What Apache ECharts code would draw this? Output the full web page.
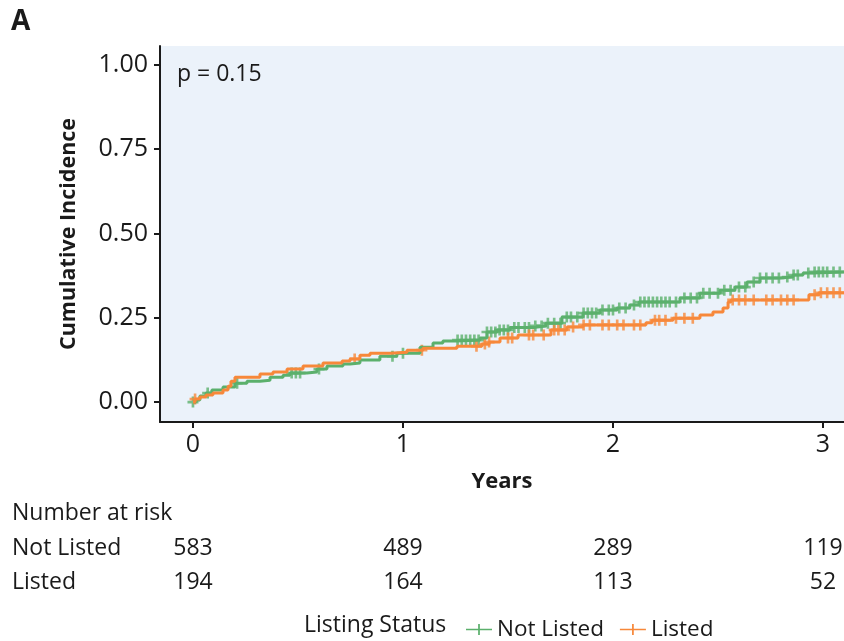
<!DOCTYPE html>
<html>
<head>
<meta charset="utf-8">
<script src="https://cdn.jsdelivr.net/npm/echarts@6/dist/echarts.min.js"></script>
<style>
  html, body { margin: 0; padding: 0; background: #fff; }
  #chart { width: 844px; height: 641px; }
</style>
</head>
<body>
<div id="chart"></div>
<script>
// Cumulative incidence by listing status (step curves)
const notListedTime = [0, 0.014, 0.033, 0.062, 0.09, 0.143, 0.2, 0.257, 0.319, 0.367, 0.429, 0.462, 0.543, 0.59, 0.638, 0.714, 0.748, 0.795, 0.89, 0.971, 1.081, 1.143, 1.19, 1.257, 1.367, 1.4, 1.448, 1.51, 1.62, 1.68, 1.757, 1.857, 1.938, 2.019, 2.08, 2.124, 2.319, 2.414, 2.51, 2.581, 2.638, 2.7, 2.795, 2.857, 2.905, 2.95, 3.1];
const notListedCI   = [0, 0.006, 0.018, 0.027, 0.036, 0.045, 0.056, 0.062, 0.065, 0.074, 0.080, 0.086, 0.089, 0.098, 0.107, 0.113, 0.116, 0.125, 0.136, 0.145, 0.163, 0.175, 0.181, 0.184, 0.19, 0.208, 0.214, 0.221, 0.226, 0.234, 0.252, 0.264, 0.273, 0.279, 0.288, 0.297, 0.309, 0.323, 0.332, 0.341, 0.356, 0.368, 0.371, 0.377, 0.383, 0.386, 0.386];

const listedTime = [0, 0.01, 0.033, 0.062, 0.095, 0.143, 0.167, 0.181, 0.2, 0.319, 0.381, 0.448, 0.524, 0.619, 0.71, 0.748, 0.795, 0.843, 0.938, 1.019, 1.095, 1.257, 1.376, 1.41, 1.462, 1.548, 1.705, 1.781, 1.857, 2.157, 2.186, 2.286, 2.414, 2.476, 2.524, 2.548, 2.562, 2.9, 2.933, 2.98, 3.1];
const listedCI   = [0, 0.009, 0.015, 0.021, 0.027, 0.036, 0.047, 0.062, 0.074, 0.083, 0.089, 0.098, 0.107, 0.116, 0.122, 0.128, 0.139, 0.145, 0.148, 0.154, 0.160, 0.166, 0.172, 0.178, 0.190, 0.199, 0.214, 0.223, 0.229, 0.235, 0.243, 0.249, 0.258, 0.267, 0.279, 0.297, 0.303, 0.303, 0.318, 0.324, 0.324];

// censoring times (+ marks)
const notListedCensor = [0.0, 0.07, 0.21, 0.47, 0.49, 0.51, 0.6, 0.95, 1.0, 1.26, 1.28, 1.3, 1.32, 1.34, 1.36, 1.4, 1.42, 1.44, 1.46, 1.48, 1.5, 1.53, 1.55, 1.58, 1.6, 1.63, 1.66, 1.69, 1.72, 1.75, 1.78, 1.8, 1.83, 1.86, 1.88, 1.9, 1.92, 1.95, 1.98, 2.0, 2.03, 2.06, 2.1, 2.13, 2.15, 2.17, 2.19, 2.21, 2.23, 2.25, 2.27, 2.3, 2.34, 2.37, 2.4, 2.43, 2.46, 2.5, 2.53, 2.56, 2.6, 2.63, 2.67, 2.7, 2.73, 2.76, 2.79, 2.83, 2.86, 2.88, 2.93, 2.96, 2.98, 3.0, 3.02, 3.05, 3.08];
const listedCensor = [0.01, 0.77, 1.09, 1.35, 1.39, 1.41, 1.5, 1.52, 1.6, 1.62, 1.67, 1.72, 1.74, 1.77, 1.81, 1.86, 1.89, 1.95, 1.98, 2.02, 2.05, 2.1, 2.13, 2.2, 2.22, 2.25, 2.3, 2.34, 2.38, 2.57, 2.6, 2.63, 2.67, 2.73, 2.76, 2.8, 2.83, 2.86, 2.96, 2.99, 3.02, 3.05, 3.08];

// number at risk table
const riskTimes = [0, 1, 2, 3];
const notListedRisk = [583, 489, 289, 119];
const listedRisk = [194, 164, 113, 52];

const xTicks = [0, 1, 2, 3];
const yTicks = [0, 0.25, 0.5, 0.75, 1];

const GREEN = '#5BB06C';
const ORANGE = '#F7883A';
const INK = '#1a1a1a';
const FONT = '"Open Sans", "Noto Sans", sans-serif';
const PLUS = 'path://M3.8,0 H6.2 V3.8 H10 V6.2 H6.2 V10 H3.8 V6.2 H0 V3.8 H3.8 Z';
const LEGEND_ICON = 'path://M0,4.2 H24 V5.8 H0 Z M11.2,0 H12.8 V10 H11.2 Z';

// value of a step curve at time t (for placing censor marks on the curve)
function stepAt(times, vals, t) {
  let v = vals[0];
  for (let i = 0; i < times.length; i++) {
    if (times[i] <= t) v = vals[i]; else break;
  }
  return v;
}

const pairs = (ts, vs) => ts.map((t, i) => [t, vs[i]]);
const censorPts = (cs, ts, vs) => cs.map((t) => [t, stepAt(ts, vs, t)]);

const X_MIN = -0.157, X_MAX = 3.1;

const txt = (text, x, y, size, weight) => ({
  type: 'text',
  style: { text, x, y, font: `${weight || 'normal'} ${size}px ${FONT}`, fill: INK, verticalAlign: 'middle' },
});

const riskLabel = {
  show: true, position: 'inside', fontSize: 23, color: INK, opacity: 1,
  formatter: (p) => String(p.value[2]),
};

const chart = echarts.init(document.getElementById('chart'));
chart.setOption({
  animation: false,
  textStyle: { fontFamily: FONT },
  grid: [
    { left: 160, right: 0, top: 46, height: 376, show: true, backgroundColor: '#EBF2FA', borderWidth: 0 },
    { left: 160, right: 0, top: 531, height: 68 },
  ],
  xAxis: [
    {
      gridIndex: 0, type: 'value', min: X_MIN, max: X_MAX,
      name: 'Years', nameLocation: 'middle', nameGap: 49,
      nameTextStyle: { fontFamily: FONT, fontSize: 22, fontWeight: 'bold', color: INK },
      axisLine: { show: true, onZero: false, lineStyle: { color: INK, width: 2 } },
      axisTick: { show: true, length: 6, lineStyle: { color: INK, width: 2 }, customValues: xTicks },
      axisLabel: { color: INK, fontSize: 25, margin: 10, customValues: xTicks, formatter: (v) => String(v) },
      splitLine: { show: false },
    },
    {
      gridIndex: 1, type: 'value', min: X_MIN, max: X_MAX, show: false,
    },
  ],
  yAxis: [
    {
      gridIndex: 0, type: 'value', min: -0.059, max: 1.056,
      name: 'Cumulative Incidence', nameLocation: 'middle', nameGap: 80,
      nameTextStyle: { fontFamily: FONT, fontSize: 21.5, fontWeight: 'bold', color: INK },
      axisLine: { show: true, onZero: false, lineStyle: { color: INK, width: 2 } },
      axisTick: { show: true, length: 6, lineStyle: { color: INK, width: 2 }, customValues: yTicks },
      axisLabel: { color: INK, fontSize: 25, margin: 12, customValues: yTicks, formatter: (v) => v.toFixed(2) },
      splitLine: { show: false },
    },
    {
      gridIndex: 1, type: 'category', inverse: true, data: ['Not Listed', 'Listed'],
      axisLine: { show: false }, axisTick: { show: false }, splitLine: { show: false },
      axisLabel: { align: 'left', margin: 148, color: INK, fontSize: 23 },
    },
  ],
  legend: {
    left: 461, top: 613, itemWidth: 26, itemGap: 16, itemHeight: 11,
    textStyle: { fontFamily: FONT, fontSize: 22.5, color: INK },
    data: [
      { name: 'Not Listed', icon: LEGEND_ICON, itemStyle: { color: GREEN } },
      { name: 'Listed', icon: LEGEND_ICON, itemStyle: { color: ORANGE } },
    ],
  },
  graphic: [
    txt('A', 11, 22, 28, 'bold'),
    txt('p = 0.15', 177, 74, 23),
    txt('Number at risk', 12, 513, 23),
    txt('Listing Status', 304, 625, 23),
  ],
  series: [
    {
      name: 'Not Listed', type: 'line', step: 'end', xAxisIndex: 0, yAxisIndex: 0,
      data: pairs(notListedTime, notListedCI), showSymbol: false, symbol: 'none',
      lineStyle: { color: GREEN, width: 3 }, itemStyle: { color: GREEN },
    },
    {
      name: 'Listed', type: 'line', step: 'end', xAxisIndex: 0, yAxisIndex: 0,
      data: pairs(listedTime, listedCI), showSymbol: false, symbol: 'none',
      lineStyle: { color: ORANGE, width: 3 }, itemStyle: { color: ORANGE },
    },
    {
      name: 'Not Listed', type: 'scatter', xAxisIndex: 0, yAxisIndex: 0,
      data: censorPts(notListedCensor, notListedTime, notListedCI),
      symbol: PLUS, symbolSize: 11, itemStyle: { color: GREEN },
    },
    {
      name: 'Listed', type: 'scatter', xAxisIndex: 0, yAxisIndex: 0,
      data: censorPts(listedCensor, listedTime, listedCI),
      symbol: PLUS, symbolSize: 11, itemStyle: { color: ORANGE },
    },
    {
      name: 'riskNotListed', type: 'scatter', xAxisIndex: 1, yAxisIndex: 1,
      data: riskTimes.map((t, i) => [t, 'Not Listed', notListedRisk[i]]),
      symbolSize: 0, label: riskLabel,
    },
    {
      name: 'riskListed', type: 'scatter', xAxisIndex: 1, yAxisIndex: 1,
      data: riskTimes.map((t, i) => [t, 'Listed', listedRisk[i]]),
      symbolSize: 0, label: riskLabel,
    },
  ],
});
</script>
</body>
</html>
